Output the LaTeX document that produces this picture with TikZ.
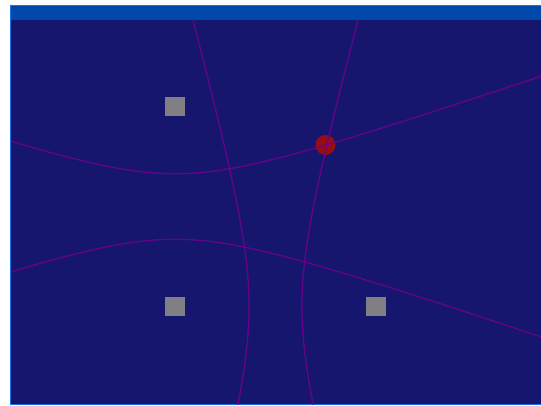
\documentclass[tikz,border=0pt]{standalone}
\usetikzlibrary{positioning}
\definecolor{navy}{RGB}{22,22,110}
\definecolor{balken}{RGB}{0,72,170}
\definecolor{rand}{RGB}{25,115,230}
\definecolor{ankergrau}{RGB}{128,128,132}
\definecolor{zielrot}{RGB}{150,14,20}
\definecolor{kurvenlila}{RGB}{110,0,140}

\begin{document}
\begin{tikzpicture}[x=1pt, y=-1pt,
        anker/.style={rectangle, fill=ankergrau, minimum size=19.5pt, inner sep=0pt},
        ziel/.style={circle, fill=zielrot, minimum size=20pt, inner sep=0pt},
        kurve/.style={line width=1.3pt, draw=kurvenlila, opacity=0.9}
      ]
        % Feste Bounding-Box (Bildgroesse)
        \useasboundingbox (0,0) rectangle (541,405);

        % Fenster
        \fill[rand] (10,5) rectangle (541,405);
        \fill[navy] (11,6) rectangle (541,404);
        \fill[balken] (11,6) rectangle (541,19.5);

        % Anker
        \node[anker] (a1) at (175,106.5) {};
        \node[anker] (a2) at (175,306.5) {};
        \node[anker] (a3) at (376,306.5) {};

        % Position
        \node[ziel] (pos) at (325.5,145) {};

        % Hyperbeln (a1/a2 und a2/a3)
        \begin{scope}
          \clip (11,19.5) rectangle (541,404);
          \draw[kurve] plot[domain=-2.3:2.3, samples=80, variable=\t] ({175+95*sinh(\t)}, {206.5-32.75*cosh(\t)});
          \draw[kurve] plot[domain=-2.3:2.3, samples=80, variable=\t] ({175+95*sinh(\t)}, {206.5+32.75*cosh(\t)});
          \draw[kurve] plot[domain=-2.3:2.3, samples=80, variable=\t] ({275.5-26.45*cosh(\t)}, {306.5+96.96*sinh(\t)});
          \draw[kurve] plot[domain=-2.3:2.3, samples=80, variable=\t] ({275.5+26.45*cosh(\t)}, {306.5+96.96*sinh(\t)});
        \end{scope}
      \end{tikzpicture}
\end{document}
